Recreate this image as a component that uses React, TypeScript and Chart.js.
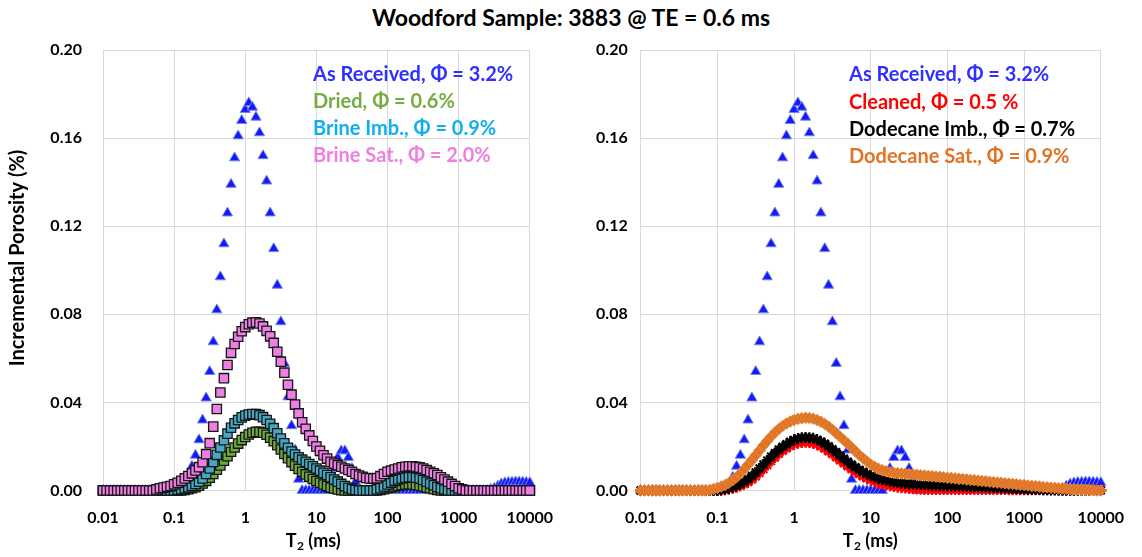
import React, { useEffect, useRef } from 'react';
import { Chart, registerables } from 'chart.js';
Chart.register(...registerables);

// ---------------- DATA ----------------
const T2_MS = [
  0.01, 0.01122, 0.01259, 0.01413, 0.01585, 0.01778, 0.01995, 0.02239, 0.02512, 0.02818,
  0.03162, 0.03548, 0.03981, 0.04467, 0.05012, 0.05623, 0.0631, 0.07079, 0.07943, 0.08913,
  0.1, 0.1122, 0.1259, 0.1413, 0.1585, 0.1778, 0.1995, 0.2239, 0.2512, 0.2818,
  0.3162, 0.3548, 0.3981, 0.4467, 0.5012, 0.5623, 0.631, 0.7079, 0.7943, 0.8913,
  1, 1.122, 1.259, 1.413, 1.585, 1.778, 1.995, 2.239, 2.512, 2.818,
  3.162, 3.548, 3.981, 4.467, 5.012, 5.623, 6.31, 7.079, 7.943, 8.913,
  10, 11.22, 12.59, 14.13, 15.85, 17.78, 19.95, 22.39, 25.12, 28.18,
  31.62, 35.48, 39.81, 44.67, 50.12, 56.23, 63.1, 70.79, 79.43, 89.13,
  100, 112.2, 125.9, 141.3, 158.5, 177.8, 199.5, 223.9, 251.2, 281.8,
  316.2, 354.8, 398.1, 446.7, 501.2, 562.3, 631, 707.9, 794.3, 891.3,
  1000, 1122, 1259, 1413, 1585, 1778, 1995, 2239, 2512, 2818,
  3162, 3548, 3981, 4467, 5012, 5623, 6310, 7079, 7943, 8913,
  10000,
];

const AS_RECEIVED = [
  0, 0, 0, 0, 0, 0, 0, 0, 0, 0,
  0, 0, 0, 0, 0, 0, 0, 0, 0, 0,
  0, 0.0005, 0.0015, 0.003, 0.006, 0.011, 0.016, 0.023, 0.032, 0.042,
  0.054, 0.0675, 0.082, 0.097, 0.112, 0.126, 0.139, 0.151, 0.161, 0.168,
  0.173, 0.176, 0.174, 0.1695, 0.1624, 0.152, 0.1405, 0.126, 0.1098, 0.0932,
  0.0766, 0.0577, 0.0425, 0.0294, 0.0184, 0.0051, 0, 0, 0, 0,
  0, 0, 0, 0, 0.004, 0.01, 0.015, 0.018, 0.018, 0.015,
  0.01, 0.004, 0, 0, 0, 0, 0, 0, 0, 0,
  0, 0, 0, 0, 0, 0, 0, 0, 0, 0,
  0, 0, 0, 0, 0, 0, 0, 0, 0, 0,
  0, 0, 0, 0, 0, 0, 0, 0, 0, 0.0005,
  0.001, 0.002, 0.003, 0.0035, 0.0037, 0.0038, 0.0039, 0.0039, 0.0038, 0.0037, 0.0036,
];

const DRIED = [
  0, 0, 0, 0, 0, 0, 0, 0, 0, 0,
  0, 0, 0, 0, 0, 0, 0, 0, 0, 0,
  0, 0, 0, 0.0003, 0.0006, 0.001, 0.0015, 0.0022, 0.0032, 0.0044,
  0.0058, 0.0075, 0.0094, 0.0114, 0.0135, 0.0156, 0.0176, 0.0195, 0.0213, 0.0229,
  0.0243, 0.0254, 0.0262, 0.0266, 0.0266, 0.0262, 0.0253, 0.024, 0.0224, 0.0206,
  0.0186, 0.0166, 0.0147, 0.0129, 0.0113, 0.0098, 0.0085, 0.0073, 0.0062, 0.0052,
  0.0043, 0.0035, 0.0027, 0.002, 0.0014, 0.0009, 0.0005, 0.0002, 0, 0,
  0, 0, 0, 0, 0, 0, 0, 0, 0.0003, 0.0006,
  0.001, 0.0014, 0.0018, 0.0022, 0.0025, 0.0027, 0.0028, 0.0027, 0.0025, 0.0022,
  0.0018, 0.0014, 0.001, 0.0006, 0.0003, 0, 0, 0, 0, 0,
  0, 0, 0, 0, 0, 0, 0, 0, 0, 0,
  0, 0, 0, 0, 0, 0, 0, 0, 0, 0, 0,
];

const BRINE_IMB = [
  0, 0, 0, 0, 0, 0, 0, 0, 0, 0,
  0, 0, 0, 0, 0, 0, 0, 0, 0, 0,
  0, 0.0003, 0.0006, 0.001, 0.0015, 0.0022, 0.003, 0.004, 0.0055, 0.0075,
  0.01, 0.013, 0.0162, 0.0195, 0.0228, 0.0258, 0.0285, 0.0305, 0.032, 0.0332,
  0.034, 0.0345, 0.0347, 0.0347, 0.0342, 0.0333, 0.032, 0.0303, 0.0283, 0.026,
  0.0236, 0.0214, 0.0194, 0.0177, 0.0163, 0.0151, 0.014, 0.013, 0.012, 0.011,
  0.01, 0.009, 0.008, 0.007, 0.006, 0.005, 0.004, 0.003, 0.002, 0.0012,
  0.0006, 0.0002, 0, 0, 0, 0, 0, 0.0005, 0.001, 0.0018,
  0.0027, 0.0036, 0.0044, 0.005, 0.0055, 0.0058, 0.006, 0.006, 0.0058, 0.0054,
  0.0048, 0.004, 0.0032, 0.0024, 0.0016, 0.001, 0.0005, 0, 0, 0,
  0, 0, 0, 0, 0, 0, 0, 0, 0, 0,
  0, 0, 0, 0, 0, 0, 0, 0, 0, 0, 0,
];

const BRINE_SAT = [
  0, 0, 0, 0, 0, 0, 0, 0, 0, 0,
  0, 0, 0, 0, 0, 0.0005, 0.001, 0.0013, 0.0017, 0.002,
  0.0028, 0.0035, 0.0044, 0.0055, 0.0066, 0.0078, 0.0091, 0.0106, 0.0128, 0.0165,
  0.0215, 0.029, 0.037, 0.0445, 0.051, 0.057, 0.0625, 0.0665, 0.0698, 0.0723,
  0.0742, 0.0755, 0.0762, 0.0764, 0.0758, 0.0745, 0.0725, 0.07, 0.067, 0.063,
  0.0585, 0.0535, 0.048, 0.0435, 0.039, 0.035, 0.031, 0.028, 0.025, 0.0225,
  0.02, 0.018, 0.016, 0.0145, 0.013, 0.0122, 0.0115, 0.0108, 0.01, 0.0093,
  0.0085, 0.0075, 0.0068, 0.0062, 0.0057, 0.0055, 0.0054, 0.0056, 0.0065, 0.0075,
  0.0085, 0.009, 0.0095, 0.01, 0.0105, 0.0108, 0.011, 0.011, 0.0108, 0.0105,
  0.01, 0.0093, 0.0085, 0.0078, 0.007, 0.006, 0.005, 0.004, 0.003, 0.002,
  0.001, 0.0005, 0, 0, 0, 0, 0, 0, 0, 0,
  0, 0, 0, 0, 0, 0, 0, 0, 0, 0, 0,
];

const CLEANED = [
  0, 0, 0, 0, 0, 0, 0, 0, 0, 0,
  0, 0, 0, 0, 0, 0, 0, 0, 0, 0,
  0, 0, 0.0003, 0.0006, 0.001, 0.0015, 0.0021, 0.0029, 0.0038, 0.005,
  0.0064, 0.008, 0.0097, 0.0115, 0.0133, 0.015, 0.0166, 0.018, 0.0192, 0.0202,
  0.021, 0.0215, 0.0218, 0.0219, 0.0218, 0.0214, 0.0208, 0.02, 0.019, 0.0178,
  0.0165, 0.0151, 0.0137, 0.0123, 0.011, 0.0097, 0.0085, 0.0074, 0.0064, 0.0055,
  0.0047, 0.004, 0.0034, 0.0029, 0.0025, 0.0021, 0.0018, 0.0015, 0.0013, 0.0011,
  0.0009, 0.0008, 0.0007, 0.0006, 0.0005, 0.0005, 0.0005, 0.0005, 0.0005, 0.0005,
  0.0005, 0.0005, 0.0005, 0.0005, 0.0005, 0.0005, 0.0005, 0.0005, 0.0005, 0.0005,
  0.0005, 0.0005, 0.0005, 0.0005, 0.0005, 0.0005, 0.0003, 0.0003, 0.0003, 0.0003,
  0.0003, 0.0003, 0.0003, 0.0003, 0.0003, 0.0003, 0.0003, 0.0003, 0.0003, 0.0003,
  0.0002, 0.0002, 0.0002, 0.0002, 0.0002, 0.0002, 0.0002, 0.0002, 0.0002, 0.0002, 0.0002,
];

const DODECANE_IMB = [
  0, 0, 0, 0, 0, 0, 0, 0, 0, 0,
  0, 0, 0, 0, 0, 0, 0, 0, 0, 0,
  0, 0.0003, 0.0006, 0.001, 0.0015, 0.0022, 0.003, 0.004, 0.0052, 0.0066,
  0.0082, 0.01, 0.0118, 0.0136, 0.0154, 0.017, 0.0186, 0.0199, 0.021, 0.0222,
  0.023, 0.0236, 0.024, 0.0241, 0.024, 0.0237, 0.0231, 0.0223, 0.0213, 0.0201,
  0.0188, 0.0174, 0.0159, 0.0145, 0.0131, 0.0118, 0.0106, 0.0095, 0.0085, 0.0076,
  0.0068, 0.0061, 0.0055, 0.005, 0.0046, 0.0042, 0.0039, 0.0036, 0.0034, 0.0032,
  0.003, 0.0029, 0.0028, 0.0027, 0.0026, 0.0025, 0.0024, 0.0024, 0.0023, 0.0022,
  0.0022, 0.0021, 0.0021, 0.002, 0.002, 0.0019, 0.0019, 0.0018, 0.0018, 0.0017,
  0.0016, 0.0016, 0.0015, 0.0014, 0.0013, 0.0012, 0.0011, 0.001, 0.0009, 0.0008,
  0.0007, 0.0006, 0.0005, 0.0004, 0.0004, 0.0003, 0.0003, 0.0002, 0.0002, 0.0001,
  0.0001, 0.0001, 0.0001, 0.0001, 0.0001, 0.0001, 0.0001, 0.0001, 0.0001, 0.0001, 0.0001,
];

const DODECANE_SAT = [
  0, 0, 0, 0, 0, 0, 0, 0, 0, 0,
  0, 0, 0, 0, 0, 0, 0, 0, 0.0003, 0.0007,
  0.0012, 0.0018, 0.0025, 0.0035, 0.0047, 0.0061, 0.0078, 0.0097, 0.0117, 0.0138,
  0.016, 0.0182, 0.0204, 0.0225, 0.0245, 0.0263, 0.0279, 0.0293, 0.0304, 0.0313,
  0.032, 0.0325, 0.0328, 0.033, 0.0329, 0.0326, 0.032, 0.0312, 0.0302, 0.029,
  0.0276, 0.026, 0.0244, 0.0228, 0.0212, 0.0195, 0.0178, 0.0161, 0.0146, 0.0132,
  0.0118, 0.0108, 0.0099, 0.0092, 0.0087, 0.0083, 0.008, 0.0078, 0.0077, 0.0076,
  0.0075, 0.0073, 0.0071, 0.0069, 0.0068, 0.0066, 0.0065, 0.0063, 0.0062, 0.006,
  0.0058, 0.0057, 0.0055, 0.0053, 0.0052, 0.005, 0.0048, 0.0047, 0.0045, 0.0043,
  0.0042, 0.004, 0.0038, 0.0036, 0.0035, 0.0033, 0.0031, 0.003, 0.0028, 0.0026,
  0.0025, 0.0023, 0.0021, 0.002, 0.0018, 0.0016, 0.0015, 0.0013, 0.0012, 0.001,
  0.0009, 0.0008, 0.0007, 0.0006, 0.0005, 0.0004, 0.0003, 0.0002, 0.0001, 0, 0,
];

const X_TICKS = [0.01, 0.1, 1, 10, 100, 1000, 10000];
const X_TICK_LABELS = ['0.01', '0.1', '1', '10', '100', '1000', '10000'];
const Y_TICKS = [0, 0.04, 0.08, 0.12, 0.16, 0.2];
const Y_TICK_LABELS = ['0.00', '0.04', '0.08', '0.12', '0.16', '0.20'];

const TITLE = 'Woodford Sample: 3883 @ TE = 0.6 ms';
const Y_TITLE = 'Incremental Porosity (%)';
const LEFT_LABELS = ['As Received, Φ = 3.2%', 'Dried, Φ = 0.6%', 'Brine Imb., Φ = 0.9%', 'Brine Sat., Φ = 2.0%'];
const RIGHT_LABELS = ['As Received, Φ = 3.2%', 'Cleaned, Φ = 0.5 %', 'Dodecane Imb., Φ = 0.7%', 'Dodecane Sat., Φ = 0.9%'];

// ---------------- STYLE ----------------
const FONT = 'Lato, "Open Sans", sans-serif';
const GRID = '#d9d9d9';
const C_BLUE_TXT = '#3030ff';
const LEFT_COLORS = [C_BLUE_TXT, '#76ac45', '#10b0ee', '#ee80e0'];
const RIGHT_COLORS = [C_BLUE_TXT, '#ff0000', '#000000', '#e07424'];

function pts(vals: number[]) {
  return T2_MS.map((x, i) => ({ x, y: vals[i] }));
}

const blueDs = (order: number) => ({
  label: 'As Received',
  data: pts(AS_RECEIVED),
  pointStyle: 'triangle',
  pointRadius: 5.9,
  backgroundColor: '#1616ff',
  borderColor: '#6e88e6',
  borderWidth: 1,
  order,
});

function makeTextPlugin(opts: any) {
  return {
    id: 'annot_' + opts.key,
    afterDraw(chart: any) {
      const ctx = chart.ctx;
      ctx.save();
      ctx.font = `bold 20px ${FONT}`;
      ctx.textBaseline = 'middle';
      ctx.textAlign = 'left';
      opts.labels.forEach((t: string, i: number) => {
        ctx.fillStyle = opts.colors[i];
        ctx.fillText(t, opts.legendX, opts.legendY[i]);
      });
      // x title with subscript
      ctx.fillStyle = '#000';
      const big = `bold 18px ${FONT}`;
      const small = `bold 12px ${FONT}`;
      ctx.font = big;
      const wT = ctx.measureText('T').width;
      const wRest = ctx.measureText(' (ms)').width;
      ctx.font = small;
      const w2 = ctx.measureText('2').width;
      const x0 = opts.xTitleX - (wT + w2 + wRest) / 2;
      const yT = opts.xTitleY;
      ctx.font = big;
      ctx.fillText('T', x0, yT);
      ctx.font = small;
      ctx.fillText('2', x0 + wT + 0.5, yT + 5);
      ctx.font = big;
      ctx.fillText(' (ms)', x0 + wT + w2 + 0.5, yT);
      if (opts.yTitle) {
        ctx.translate(opts.yTitle.x, opts.yTitle.y);
        ctx.rotate(-Math.PI / 2);
        ctx.textAlign = 'center';
        ctx.font = `bold 20px ${FONT}`;
        ctx.fillText(Y_TITLE, 0, 0);
      }
      ctx.restore();
    },
  };
}

function makeConfig(datasets: any[], yWidth: number, yPad: number, padRight: number, plugin: any) {
  const tickFont = { family: FONT, size: 16, weight: 'bold' as const };
  return {
    type: 'scatter' as const,
    data: { datasets },
    options: {
      animation: false,
      responsive: false,
      maintainAspectRatio: false,
      events: [],
      layout: { padding: { left: 0, right: padRight, top: 50, bottom: 0 } },
      datasets: { scatter: { showLine: false, clip: false } },
      plugins: { legend: { display: false }, tooltip: { enabled: false }, title: { display: false } },
      scales: {
        x: {
          type: 'logarithmic',
          min: 0.01,
          max: 10000,
          afterBuildTicks: (s: any) => {
            s.ticks = X_TICKS.map((v) => ({ value: v }));
          },
          afterFit: (s: any) => {
            s.height = 66.5;
          },
          ticks: {
            callback: (_v: any, i: number) => X_TICK_LABELS[i],
            font: tickFont,
            color: '#000',
            padding: 18,
            maxRotation: 0,
            autoSkip: false,
          },
          grid: { color: GRID, lineWidth: 1, drawTicks: false },
          border: { color: GRID, width: 1 },
        },
        y: {
          type: 'linear',
          min: 0,
          max: 0.2,
          afterBuildTicks: (s: any) => {
            s.ticks = Y_TICKS.map((v) => ({ value: v }));
          },
          afterFit: (s: any) => {
            s.width = yWidth;
          },
          ticks: {
            callback: (_v: any, i: number) => Y_TICK_LABELS[i],
            font: tickFont,
            color: '#000',
            padding: yPad,
          },
          grid: { color: GRID, lineWidth: 1, drawTicks: false },
          border: { color: GRID, width: 1 },
        },
      },
    },
    plugins: [plugin],
  };
}

function useChart(ref: React.RefObject<HTMLCanvasElement>, build: () => any) {
  useEffect(() => {
    if (!ref.current) return;
    const chart = new Chart(ref.current, build());
    return () => chart.destroy();
  }, []);
}

export default function App() {
  const leftRef = useRef<HTMLCanvasElement>(null);
  const rightRef = useRef<HTMLCanvasElement>(null);

  const sq = { pointStyle: 'rect', pointRadius: 6.6, borderColor: '#141414', borderWidth: 1.3 };

  useChart(leftRef, () =>
    makeConfig(
      [
        blueDs(3),
        { label: 'Dried', data: pts(DRIED), ...sq, backgroundColor: '#6fa83c', order: 2 },
        { label: 'Brine Imb.', data: pts(BRINE_IMB), ...sq, backgroundColor: '#46a8c2', order: 1 },
        { label: 'Brine Sat.', data: pts(BRINE_SAT), ...sq, backgroundColor: '#ef7fe4', order: 0 },
      ],
      103,
      21,
      34,
      makeTextPlugin({
        key: 'left',
        labels: LEFT_LABELS,
        colors: LEFT_COLORS,
        legendX: 313,
        legendY: [75, 102, 129, 156],
        xTitleX: 313,
        xTitleY: 541,
        yTitle: { x: 18, y: 258 },
      })
    )
  );

  useChart(rightRef, () =>
    makeConfig(
      [
        blueDs(3),
        {
          label: 'Cleaned',
          data: pts(CLEANED),
          pointStyle: 'star',
          pointRadius: 5.5,
          backgroundColor: '#ff0000',
          borderColor: '#ff0000',
          borderWidth: 2.2,
          order: 2,
        },
        {
          label: 'Dodecane Imb.',
          data: pts(DODECANE_IMB),
          pointStyle: 'star',
          pointRadius: 5.5,
          backgroundColor: '#000000',
          borderColor: '#000000',
          borderWidth: 2.2,
          order: 1,
        },
        {
          label: 'Dodecane Sat.',
          data: pts(DODECANE_SAT),
          pointStyle: 'rectRot',
          pointRadius: 5.8,
          backgroundColor: '#e07424',
          borderColor: '#e58a40',
          borderWidth: 1,
          order: 0,
        },
      ],
      69.7,
      13,
      36,
      makeTextPlugin({
        key: 'right',
        labels: RIGHT_LABELS,
        colors: RIGHT_COLORS,
        legendX: 278,
        legendY: [75, 103, 130, 157],
        xTitleX: 299,
        xTitleY: 541,
        yTitle: null,
      })
    )
  );

  return (
    <div style={{ position: 'absolute', left: 0, top: 0, width: 1142, height: 557, background: '#fff', overflow: 'hidden' }}>
      <div
        style={{
          position: 'absolute',
          left: 0,
          top: 4,
          width: 1142,
          textAlign: 'center',
          font: `bold 23px ${FONT}`,
          lineHeight: '26px',
          color: '#000',
        }}
      >
        {TITLE}
      </div>
      <canvas ref={leftRef} width={571} height={557} style={{ position: 'absolute', left: 0, top: 0, width: 571, height: 557 }} />
      <canvas ref={rightRef} width={571} height={557} style={{ position: 'absolute', left: 571, top: 0, width: 571, height: 557 }} />
    </div>
  );
}
